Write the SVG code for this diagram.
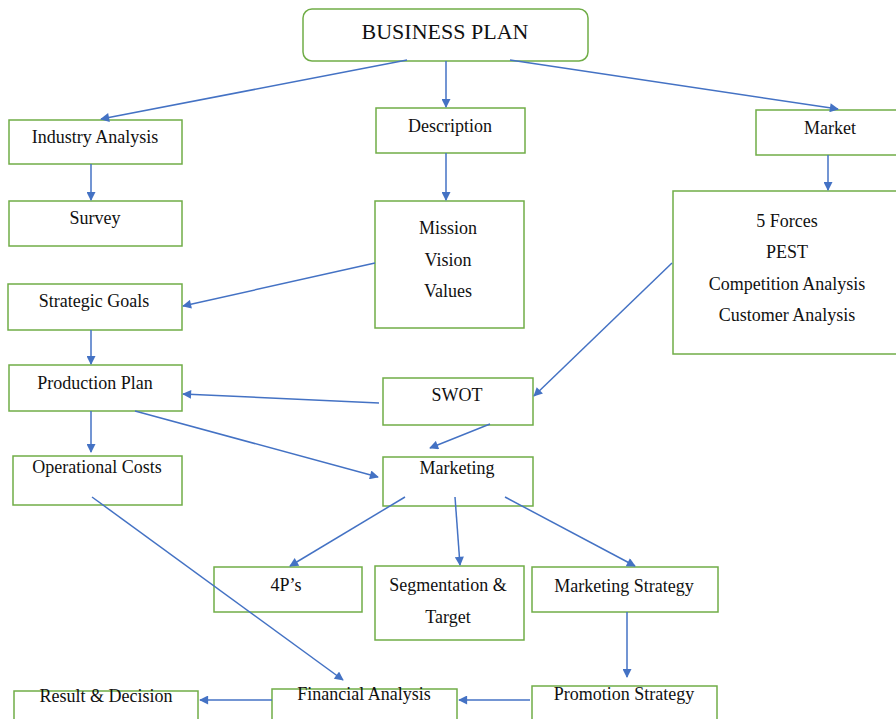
<svg xmlns="http://www.w3.org/2000/svg" width="896" height="719" viewBox="0 0 896 719">
<style>
.box{fill:#fff;stroke:#70AD47;stroke-width:1.5}
.t{font-family:"Liberation Serif","Times New Roman",serif;font-size:18px;fill:#111;text-anchor:middle}
.c line{stroke:#4472C4;stroke-width:1.5;marker-end:url(#ah)}
</style>
<defs>
<marker id="ah" viewBox="0 0 10 10" refX="9" refY="5" markerWidth="10" markerHeight="9" markerUnits="userSpaceOnUse" orient="auto">
<path d="M0,0 L10,5 L0,10 z" fill="#4472C4"/>
</marker>
</defs>
<rect width="896" height="719" fill="#fff"/>
<g id="business-plan"><rect class="box" x="303" y="9" width="285" height="52" rx="9"/><text class="t" x="445" y="39" style="font-size:22px">BUSINESS PLAN</text></g>
<g id="industry-analysis"><rect class="box" x="9" y="120" width="173" height="44"/><text class="t" x="95" y="143">Industry Analysis</text></g>
<g id="survey"><rect class="box" x="9" y="201" width="173" height="45"/><text class="t" x="95" y="224">Survey</text></g>
<g id="description"><rect class="box" x="376" y="108" width="149" height="45"/><text class="t" x="450" y="132">Description</text></g>
<g id="mission"><rect class="box" x="375" y="201" width="149" height="127"/><text class="t" x="448" y="234">Mission</text><text class="t" x="448" y="266">Vision</text><text class="t" x="448" y="297">Values</text></g>
<g id="market"><rect class="box" x="756" y="110" width="145" height="45"/><text class="t" x="830" y="134">Market</text></g>
<g id="forces"><rect class="box" x="673" y="191" width="228" height="163"/><text class="t" x="787" y="227">5 Forces</text><text class="t" x="787" y="258">PEST</text><text class="t" x="787" y="290">Competition Analysis</text><text class="t" x="787" y="321">Customer Analysis</text></g>
<g id="strategic-goals"><rect class="box" x="8" y="284" width="174" height="46"/><text class="t" x="94" y="307">Strategic Goals</text></g>
<g id="production-plan"><rect class="box" x="9" y="365" width="173" height="46"/><text class="t" x="95" y="389">Production Plan</text></g>
<g id="swot"><rect class="box" x="383" y="378" width="150" height="47"/><text class="t" x="457" y="401">SWOT</text></g>
<g id="operational-costs"><rect class="box" x="13" y="456" width="169" height="49"/><text class="t" x="97" y="473">Operational Costs</text></g>
<g id="marketing"><rect class="box" x="383" y="457" width="150" height="49"/><text class="t" x="457" y="474">Marketing</text></g>
<g id="four-ps"><rect class="box" x="214" y="567" width="148" height="45"/><text class="t" x="286" y="591">4P’s</text></g>
<g id="segmentation"><rect class="box" x="375" y="566" width="149" height="74"/><text class="t" x="448" y="591">Segmentation &amp;</text><text class="t" x="448" y="623">Target</text></g>
<g id="marketing-strategy"><rect class="box" x="532" y="567" width="186" height="45"/><text class="t" x="624" y="592">Marketing Strategy</text></g>
<g id="result"><rect class="box" x="14" y="691" width="184" height="40"/><text class="t" x="106" y="702">Result &amp; Decision</text></g>
<g id="financial"><rect class="box" x="272" y="689" width="185" height="40"/><text class="t" x="364" y="700">Financial Analysis</text></g>
<g id="promotion"><rect class="box" x="532" y="686" width="185" height="40"/><text class="t" x="624" y="700">Promotion Strategy</text></g>
<g class="c" id="connectors">
<line x1="407" y1="60" x2="101" y2="119"/>
<line x1="446" y1="61" x2="446" y2="107"/>
<line x1="510" y1="60" x2="838" y2="109"/>
<line x1="91" y1="164" x2="91" y2="200"/>
<line x1="446" y1="153" x2="446" y2="200"/>
<line x1="375" y1="263" x2="183" y2="306"/>
<line x1="828" y1="155" x2="828" y2="190"/>
<line x1="672" y1="263" x2="534" y2="396"/>
<line x1="91" y1="330" x2="91" y2="364"/>
<line x1="379" y1="403" x2="183" y2="394"/>
<line x1="91" y1="411" x2="91" y2="452"/>
<line x1="135" y1="411" x2="378" y2="477"/>
<line x1="490" y1="424" x2="430" y2="448"/>
<line x1="405" y1="497" x2="290" y2="566"/>
<line x1="455" y1="497" x2="460" y2="565"/>
<line x1="505" y1="497" x2="635" y2="566"/>
<line x1="92" y1="497" x2="343" y2="680"/>
<line x1="627" y1="612" x2="627" y2="677"/>
<line x1="530" y1="700" x2="459" y2="700"/>
<line x1="272" y1="700" x2="200" y2="700"/>
</g>
</svg>
